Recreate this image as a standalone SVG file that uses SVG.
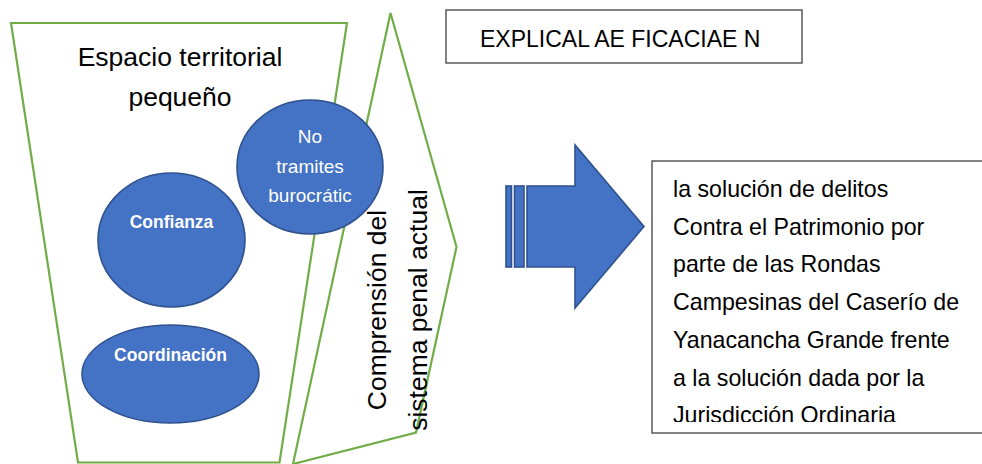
<svg xmlns="http://www.w3.org/2000/svg" width="982" height="464" viewBox="0 0 982 464">
<defs>
<style>
.green{fill:#FFFFFF;stroke:#70AD47;stroke-width:2.2;stroke-linejoin:miter}
.blue{fill:#4472C4;stroke:#2F528F;stroke-width:1.6}
.box{fill:#FFFFFF;stroke:#404040;stroke-width:1.3}
.t{font-family:"Liberation Sans",Arial,sans-serif;fill:#000000}
.w{font-family:"Liberation Sans",Arial,sans-serif;fill:#FFFFFF}
</style>
<clipPath id="clipR"><rect x="653" y="162" width="329" height="260"/></clipPath>
</defs>
<rect width="982" height="464" fill="#FFFFFF"/>
<g id="trapecio">
<polygon class="green" points="11,23 347,23 279.5,462.5 78,462.5"/>
<text class="t" font-size="26.5" text-anchor="middle" x="180" y="66">Espacio territorial</text>
<text class="t" font-size="26.5" text-anchor="middle" x="180" y="106">pequeño</text>
</g>
<g id="comprension">
<polygon class="green" points="390.5,13 456.5,247 416,432.5 293,464"/>
<text class="t" font-size="26.5" text-anchor="middle" transform="translate(386,310) rotate(-90)" x="0" y="0">Comprensión del</text>
<text class="t" font-size="26.5" text-anchor="middle" transform="translate(427,310) rotate(-90)" x="0" y="0">sistema penal actual</text>
</g>
<g id="no-tramites">
<ellipse class="blue" cx="310" cy="167" rx="73" ry="67"/>
<text class="w" font-size="19" text-anchor="middle" x="310" y="143">No</text>
<text class="w" font-size="19" text-anchor="middle" x="310" y="173">tramites</text>
<text class="w" font-size="19" text-anchor="middle" x="310" y="202">burocrátic</text>
</g>
<g id="confianza">
<ellipse class="blue" cx="171.5" cy="240" rx="73.5" ry="67"/>
<text class="w" font-size="17.5" font-weight="bold" text-anchor="middle" x="171.5" y="228">Confianza</text>
</g>
<g id="coordinacion">
<ellipse class="blue" cx="170.5" cy="374" rx="88.5" ry="49"/>
<text class="w" font-size="17.5" font-weight="bold" text-anchor="middle" x="170.5" y="361">Coordinación</text>
</g>
<g id="titulo">
<rect class="box" x="446" y="10" width="356" height="53"/>
<text class="t" font-size="23" x="480" y="47">EXPLICAL AE FICACIAE N</text>
</g>
<g id="connectors">
<rect class="blue" x="506" y="186" width="5.5" height="81"/>
<rect class="blue" x="514.5" y="186" width="9.5" height="81"/>
<polygon class="blue" points="527,186 575,186 575,145 644,226.5 575,308 575,267 527,267"/>
</g>
<g id="resultado">
<rect class="box" x="652" y="161" width="340" height="272"/>
<g clip-path="url(#clipR)">
<text class="t" font-size="23.2" x="673" y="197">la solución de delitos</text>
<text class="t" font-size="23.2" x="673" y="234.7">Contra el Patrimonio por</text>
<text class="t" font-size="23.2" x="673" y="272.4">parte de las Rondas</text>
<text class="t" font-size="23.2" x="673" y="310.1">Campesinas del Caserío de</text>
<text class="t" font-size="23.2" x="673" y="347.8">Yanacancha Grande frente</text>
<text class="t" font-size="23.2" x="673" y="385.5">a la solución dada por la</text>
<text class="t" font-size="23.2" x="673" y="423.2">Jurisdicción Ordinaria</text>
</g>
</g>
</svg>
